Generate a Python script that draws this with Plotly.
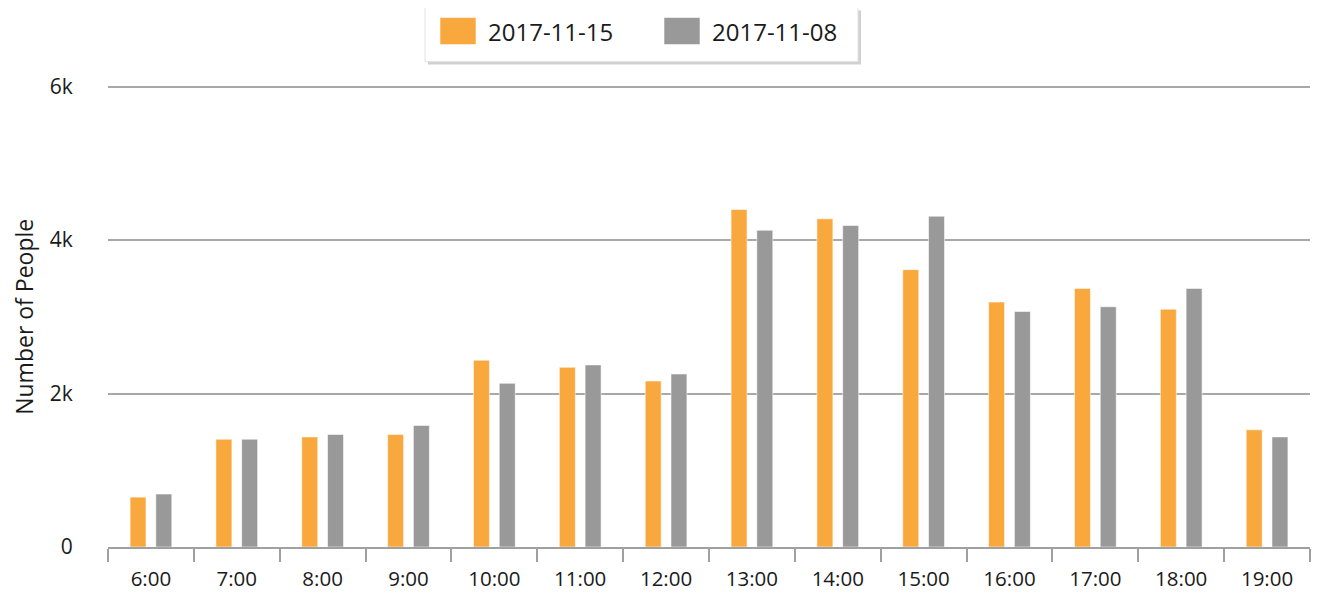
import plotly.graph_objects as go

hours = ["6:00", "7:00", "8:00", "9:00", "10:00", "11:00", "12:00",
         "13:00", "14:00", "15:00", "16:00", "17:00", "18:00", "19:00"]
series_names = ["2017-11-15", "2017-11-08"]
values_1115 = [650, 1405, 1435, 1467, 2434, 2342, 2163, 4399, 4277, 3614, 3192, 3370, 3100, 1527]
values_1108 = [690, 1405, 1467, 1584, 2133, 2373, 2255, 4128, 4190, 4311, 3069, 3131, 3370, 1435]
y_tickvals = [0, 2000, 4000, 6000]
y_ticktext = ["0", "2k", "4k", "6k"]
y_title = "Number of People"
y_max = 6060

colors = ["#F9A83E", "#999999"]
# page body has an 8px margin; compensate so the plot lands where the reference has it
OFF = 8
W, H = 1325 - OFF, 596 - OFF
# plot area in screen pixels (0 at y=547, 6k at y=87)
SX0, SX1, SY6K, SY1 = 108, 1310, 87, 547
plot_h = (SY1 - SY6K) * y_max / 6000
SY0 = SY1 - plot_h
L, R, B = SX0 - OFF, 1325 - SX1, 596 - SY1
T = SY0 - OFF

def px(x):
    return (x - SX0) / (SX1 - SX0)

def py(y):
    return (SY1 - y) / plot_h

fig = go.Figure()
for name, vals, c in zip(series_names, [values_1115, values_1108], colors):
    fig.add_trace(go.Bar(x=hours, y=vals, name=name, marker_color=c,
                         marker_line=dict(color="rgba(255,255,255,0.55)", width=1),
                         showlegend=False))

font = "Open Sans, DejaVu Sans, sans-serif"
shapes = []
annotations = []
# legend box with shadow
shapes.append(dict(type="rect", xref="paper", yref="paper",
                   x0=px(428), x1=px(861), y0=py(65), y1=py(11),
                   fillcolor="#d0d0d0", line=dict(width=0), layer="above"))
shapes.append(dict(type="rect", xref="paper", yref="paper",
                   x0=px(425), x1=px(858), y0=py(62), y1=py(8),
                   fillcolor="white", line=dict(color="#e2e2e2", width=1), layer="above"))
for i, (name, c) in enumerate(zip(series_names, colors)):
    x0 = 440 + i * 224
    shapes.append(dict(type="rect", xref="paper", yref="paper",
                       x0=px(x0), x1=px(x0 + 36), y0=py(45), y1=py(18),
                       fillcolor=c, line=dict(color="rgba(255,255,255,0.55)", width=1), layer="above"))
    annotations.append(dict(xref="paper", yref="paper", x=px(x0 + 46), y=py(32),
                            text=name, showarrow=False, xanchor="left", yanchor="middle",
                            font=dict(family=font, size=24, color="#1a1a1a")))
# y axis title
annotations.append(dict(xref="paper", yref="paper", x=px(24), y=py(317),
                        text=y_title, showarrow=False, textangle=-90, borderpad=0,
                        xanchor="center", yanchor="middle",
                        font=dict(family=font, size=23, color="#1a1a1a")))

fig.update_layout(
    width=W, height=H,
    margin=dict(l=L, r=R, t=T, b=B, pad=0, autoexpand=False),
    paper_bgcolor="white", plot_bgcolor="white",
    barmode="group", bargap=0.40, bargroupgap=0.38,
    font=dict(family=font, size=20, color="#1a1a1a"),
    shapes=shapes, annotations=annotations,
    xaxis=dict(type="category", showgrid=False, showline=True, linecolor="#a0a0a0", linewidth=2,
               ticks="outside", tickson="boundaries", ticklen=13, tickwidth=2, tickcolor="#a0a0a0",
               ticklabelstandoff=12, tickfont=dict(size=20.5), automargin=False),
    yaxis=dict(range=[0, y_max], tickvals=y_tickvals, ticktext=y_ticktext,
               showgrid=True, gridcolor="#a8a8a8", gridwidth=2, zeroline=False, showline=False,
               ticks="outside", ticklen=30, tickcolor="rgba(0,0,0,0)", tickfont=dict(size=21),
               automargin=False),
)
fig.write_html("out.html")
